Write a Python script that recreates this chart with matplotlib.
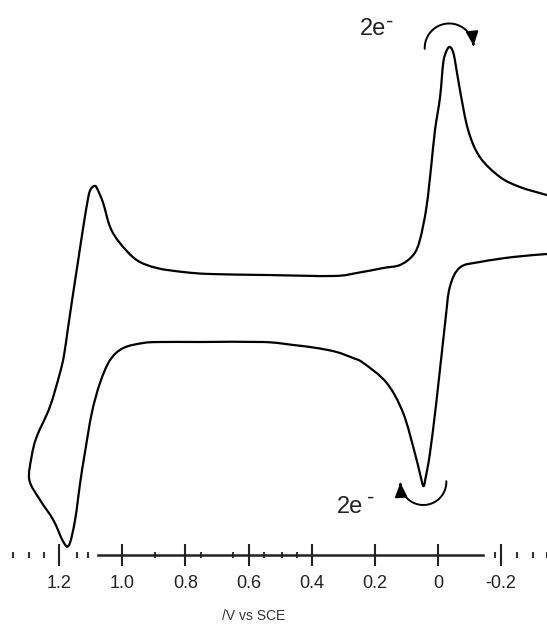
import numpy as np
import matplotlib
matplotlib.use("Agg")
import matplotlib.pyplot as plt
from matplotlib.patches import FancyArrowPatch, PathPatch
from matplotlib.path import Path

plt.rcParams['font.family'] = ['Liberation Sans', 'DejaVu Sans']

# ---- data (potential in V vs SCE, current in arbitrary units), in scan order ----
# return (lower) branch, scanned from negative to positive potential
E_lower = [-0.346, -0.239, -0.133, -0.070, -0.038, -0.023, 0.004, 0.025, 0.039, 0.046,
           0.058, 0.073, 0.110, 0.162, 0.236, 0.269, 0.321, 0.384, 0.458, 0.554,
           0.754, 0.881, 0.934, 0.997, 1.039, 1.071, 1.097, 1.119, 1.134, 1.150,
           1.169, 1.187, 1.219, 1.261, 1.295]
I_lower = [30.1, 29.8, 29.3, 28.75, 26.8, 23.2, 15.5, 10.2, 7.7, 6.9,
           8.3, 10.2, 14.2, 17.2, 19.2, 19.7, 20.3, 20.7, 21.0, 21.3,
           21.3, 21.3, 21.2, 20.7, 19.5, 17.2, 14.2, 10.2, 7.2, 3.5,
           1.0, 1.3, 3.5, 5.5, 7.5]
# forward (upper) branch, scanned from positive to negative potential
E_upper = [1.288, 1.272, 1.230, 1.198, 1.185, 1.172, 1.156, 1.140, 1.124, 1.108,
           1.100, 1.089, 1.081, 1.061, 1.039, 1.008, 0.955, 0.891, 0.807,
           0.722, 0.543, 0.332, 0.257, 0.173, 0.120, 0.078, 0.057, 0.036, 0.020,
           0.009, -0.007, -0.017, -0.026, -0.036, -0.046, -0.054, -0.070, -0.096,
           -0.133, -0.197, -0.260, -0.334, -0.346]
I_upper = [9.8, 11.8, 14.8, 18.2, 20.0, 22.8, 26.2, 29.5, 32.8, 35.8,
           36.6, 36.9, 36.7, 35.2, 32.8, 31.2, 29.5, 28.7, 28.3,
           28.1, 28.0, 27.9, 28.2, 28.7, 29.0, 30.0, 31.5, 34.8, 39.2,
           42.5, 45.8, 49.2, 50.3, 50.8, 50.5, 49.5, 46.5, 42.5,
           39.8, 37.8, 36.8, 36.1, 36.0]

tick_values = [1.2, 1.0, 0.8, 0.6, 0.4, 0.2, 0.0, -0.2]
tick_labels = ['1.2', '1.0', '0.8', '0.6', '0.4', '0.2', '0', '-0.2']
minor_values = [1.346, 1.295, 1.247, 1.145, 1.108, 0.896, 0.752, 0.650,
                0.550, 0.495, 0.445, -0.181, -0.250, -0.302, -0.345]
electron_label = '2e'
charge_label = '-'
axis_label = '/V vs SCE'

# ---- figure ----
W, H = 547, 626
fig = plt.figure(figsize=(W / 100, H / 100), dpi=100)
ax = fig.add_axes([0, 0, 1, 1])
xl = (1.388, -0.346)
yl = (-7.1, 55.5)
ax.set_xlim(*xl)
ax.set_ylim(*yl)

E = np.array(E_lower + E_upper)
I = np.array(I_lower + I_upper)
P = np.column_stack([E, I])


def smooth_path(p):
    """Catmull-Rom curve through the read points, as cubic Bezier segments."""
    n = len(p)
    verts = [p[0]]
    codes = [Path.MOVETO]
    for i in range(n - 1):
        p0 = p[max(i - 1, 0)]
        p1 = p[i]
        p2 = p[i + 1]
        p3 = p[min(i + 2, n - 1)]
        c1 = p1 + (p2 - p0) / 6.0
        c2 = p2 - (p3 - p1) / 6.0
        verts += [c1, c2, p2]
        codes += [Path.CURVE4] * 3
    return Path(np.array(verts), codes)


ax.add_patch(PathPatch(smooth_path(P), fill=False, edgecolor='black', lw=1.6,
                       joinstyle='round', transform=ax.transData))

# axis
for s in ('top', 'left', 'right'):
    ax.spines[s].set_visible(False)
ax.spines['bottom'].set_position(('data', 0))
ax.spines['bottom'].set_bounds(1.077, -0.144)
ax.spines['bottom'].set_linewidth(1.8)
ax.spines['bottom'].set_color('#222222')
ax.set_yticks([])
ax.set_xticks(tick_values)
ax.set_xticklabels(tick_labels, fontsize=13, color='#222222')
ax.set_xticks(minor_values, minor=True)
ax.tick_params(axis='x', which='major', direction='inout', length=15.5, width=1.5,
               pad=7.0, color='#222222')
ax.tick_params(axis='x', which='minor', direction='inout', length=4, width=1.5,
               color='#333333')
ax.set_xlabel(axis_label, fontsize=10, color='#333333')
ax.xaxis.set_label_coords(254 / W, 1 - 616 / H)
ax.xaxis.label.set_verticalalignment('center')

# electron-transfer arrows around the two peaks
epp = (xl[1] - xl[0]) / W   # potential per pixel to the right
ipp = (yl[1] - yl[0]) / H   # current per pixel upward


def arc(ec, ic, r, a0, a1):
    t = np.radians(np.linspace(a0, a1, 80))
    return np.column_stack([ec + r * np.cos(t) * epp, ic + r * np.sin(t) * ipp])


iu = int(np.argmax(I_upper))
il = int(np.argmin(I_lower[:15]))
up_pts = arc(E_upper[iu], I_upper[iu] - 0.1, 24.5, 182, 5)
lo_pts = arc(E_lower[il], I_lower[il] + 0.4, 23, 2, -178)
for pts in (up_pts, lo_pts):
    ax.add_patch(FancyArrowPatch(path=Path(pts), arrowstyle='-|>,head_length=0.5,head_width=0.22',
                                 mutation_scale=17, lw=1.4, color='black',
                                 shrinkA=0, shrinkB=0, transform=ax.transData))

for (ex, iy), (mx, my) in (((0.247, 52.0), (0.152, 52.7)),
                           ((0.320, 4.2), (0.214, 5.1))):
    ax.text(ex, iy, electron_label, fontsize=17, ha='left', va='baseline', color='#222222')
    ax.text(mx, my, charge_label, fontsize=16, ha='center', va='baseline', color='#222222')

fig.savefig('out.png', dpi=100)
